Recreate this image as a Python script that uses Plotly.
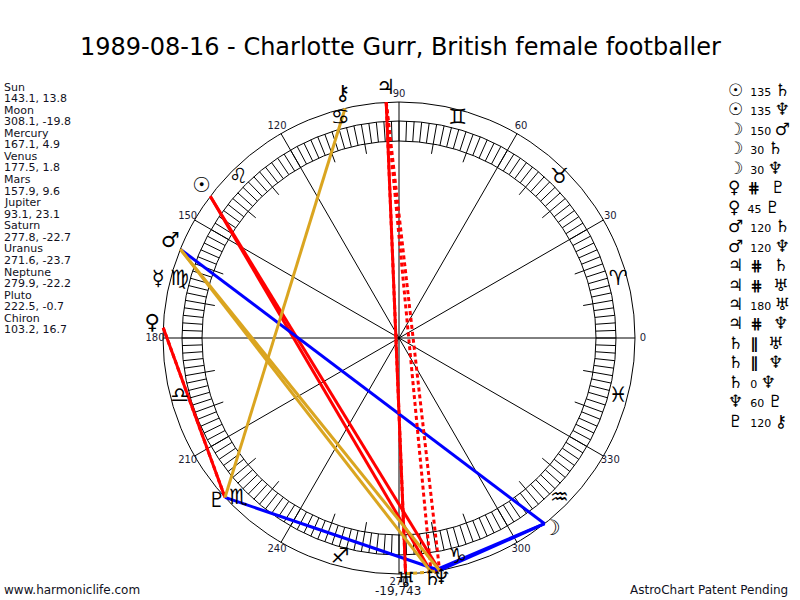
import numpy as np
import plotly.graph_objects as go

title = '1989-08-16 - Charlotte Gurr, British female footballer'

planet_names = ['Sun', 'Moon', 'Mercury', 'Venus', 'Mars', 'Jupiter',
                'Saturn', 'Uranus', 'Neptune', 'Pluto', 'Chiron']
planet_lon = [143.1, 308.1, 167.1, 177.5, 157.9, 93.1, 277.8, 271.6, 279.9, 222.5, 103.2]
planet_decl = [13.8, -19.8, 4.9, 1.8, 9.6, 23.1, -22.7, -23.7, -22.2, -0.7, 16.7]
planet_glyphs = ['☉', '☽', '☿', '♀', '♂', '♃', '♄', '♅', '♆', '♇', '⚷']

sign_glyphs = ['♈', '♉', '♊', '♋', '♌', '♍', '♎', '♏', '♐', '♑', '♒', '♓']
degree_labels = ['0', '30', '60', '90', '120', '150', '180', '210', '240', '270', '300', '330']

aspect_from = ['Sun', 'Sun', 'Moon', 'Moon', 'Moon', 'Venus', 'Venus', 'Mars', 'Mars',
               'Jupiter', 'Jupiter', 'Jupiter', 'Jupiter', 'Saturn', 'Saturn', 'Saturn',
               'Neptune', 'Pluto']
aspect_kind = ['135', '135', '150', '30', '30', '#', '45', '120', '120',
               '#', '#', '180', '#', '||', '||', '0', '60', '120']
aspect_to = ['Saturn', 'Neptune', 'Mars', 'Saturn', 'Neptune', 'Pluto', 'Pluto', 'Saturn', 'Neptune',
             'Saturn', 'Uranus', 'Uranus', 'Neptune', 'Uranus', 'Neptune', 'Neptune',
             'Pluto', 'Chiron']

# chart geometry (pixels)
cx, cy = 399, 338
r_out, r_band, r_in, r_tick = 236, 217, 197, 187
font = 'DejaVu Sans'


def pol(r, deg):
    a = np.radians(deg)
    return cx + r * np.cos(a), cy - r * np.sin(a)


def seg_trace(pairs, color, width, dash='solid'):
    xs, ys = [], []
    for (x0, y0), (x1, y1) in pairs:
        xs += [x0, x1, None]
        ys += [y0, y1, None]
    return go.Scatter(x=xs, y=ys, mode='lines', hoverinfo='skip',
                      line=dict(color=color, width=width, dash=dash))


fig = go.Figure()

# house spokes every 30 deg
spokes = [((cx, cy), pol(r_out, d)) for d in range(0, 360, 30)]
fig.add_trace(seg_trace(spokes, 'black', 1))

# degree ticks in the band
ticks = [(pol(r_in, d), pol(r_band, d)) for d in range(0, 360, 2)]
ticks += [(pol(r_tick, d), pol(r_in, d)) for d in range(10, 360, 10) if d % 30]
fig.add_trace(seg_trace(ticks, 'black', 1))

# aspect lines
styles = {
    '0': ('#ff0000', 'solid'), '45': ('#ff0000', 'solid'), '135': ('#ff0000', 'solid'),
    '180': ('#ff0000', 'solid'), '90': ('#ff0000', 'solid'),
    '30': ('#0000ff', 'solid'), '60': ('#0000ff', 'solid'), '150': ('#0000ff', 'solid'),
    '120': ('#daa520', 'solid'),
    '#': ('#ff0000', '4px,3px'), '||': ('#daa520', '4px,3px'),
}
lon = dict(zip(planet_names, planet_lon))
groups = {}
for a, k, b in zip(aspect_from, aspect_kind, aspect_to):
    groups.setdefault(styles[k], []).append((pol(r_out, lon[a]), pol(r_out, lon[b])))
for (color, dash), pairs in groups.items():
    fig.add_trace(seg_trace(pairs, color, 3, dash))

# zodiac glyphs
sx, sy = zip(*[pol(227, 15 + 30 * i) for i in range(12)])
fig.add_trace(go.Scatter(x=sx, y=sy, mode='text', text=sign_glyphs, hoverinfo='skip',
                         textfont=dict(family=font, size=21, color='black')))

# degree labels
dx, dy = zip(*[pol(244, int(t)) for t in degree_labels])
fig.add_trace(go.Scatter(x=dx, y=dy, mode='text', text=degree_labels, hoverinfo='skip',
                         textfont=dict(family=font, size=10, color='#1a1a33')))

# planet glyphs
px, py = zip(*[pol(247, l) for l in planet_lon])
py = [v - 3 for v in py]
fig.add_trace(go.Scatter(x=px, y=py, mode='text', text=planet_glyphs, hoverinfo='skip',
                         textfont=dict(family=font, size=21, color='black')))

circles = [dict(type='circle', x0=cx - r, x1=cx + r, y0=cy - r, y1=cy + r,
                line=dict(color='black', width=1), layer='below')
           for r in (r_out, r_band, r_in)]

ann = [dict(x=400, y=47, text=title, showarrow=False, xanchor='center', yanchor='middle',
            font=dict(family=font, size=24, color='black'))]

# position / declination list on the left
for i, (n, l, d) in enumerate(zip(planet_names, planet_lon, planet_decl)):
    for j, t in enumerate([n, f'{l}, {d}']):
        ann.append(dict(x=2, y=87 + 11.57 * (2 * i + j), text=t, showarrow=False,
                        xanchor='left', yanchor='middle',
                        font=dict(family=font, size=11, color='#111122')))

# aspect list on the right
gl = dict(zip(planet_names, planet_glyphs))
sym = "<span style='font-size:15px;font-weight:bold'>{}</span>\u00a0\u00a0"
kind_txt = {'#': sym.format('⋕'), '||': sym.format('∥')}
for i, (a, k, b) in enumerate(zip(aspect_from, aspect_kind, aspect_to)):
    mid = kind_txt.get(k, k)
    txt = (f"<span style='font-size:17px'>{gl[a]}</span>\u00a0 {mid} "
           f"<span style='font-size:17px'>{gl[b]}</span>")
    ann.append(dict(x=726, y=90 + 19.45 * i, text=txt, showarrow=False,
                    xanchor='left', yanchor='middle',
                    font=dict(family=font, size=11, color='black')))

ann.append(dict(x=398, y=591, text='-19,743', showarrow=False, xanchor='center',
                yanchor='middle', font=dict(family=font, size=12, color='#111122')))
ann.append(dict(x=2, y=590, text='www.harmoniclife.com', showarrow=False, xanchor='left',
                yanchor='middle', font=dict(family=font, size=12, color='#111122')))
ann.append(dict(x=790, y=590, text='AstroChart Patent Pending', showarrow=False,
                xanchor='right', yanchor='middle', font=dict(family=font, size=12, color='#111122')))

fig.update_layout(
    width=800, height=600,
    margin=dict(l=0, r=0, t=0, b=0),
    paper_bgcolor='white', plot_bgcolor='white',
    showlegend=False,
    xaxis=dict(range=[0, 800], visible=False, fixedrange=True),
    yaxis=dict(range=[600, 0], visible=False, fixedrange=True),
    shapes=circles,
    annotations=ann,
)

fig.write_html('out.html', config=dict(displayModeBar=False),
               post_script="document.body.style.margin='0px';")
